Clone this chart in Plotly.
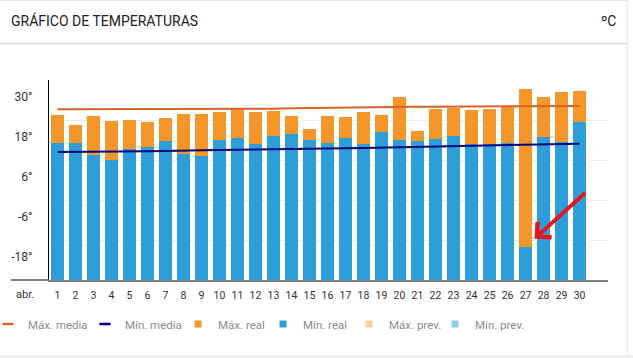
import plotly.graph_objects as go

# ---- data ----
days = list(range(1, 31))
day_labels = [str(d) for d in days]
max_real = [25.6, 22.6, 25.3, 23.8, 24.1, 23.5, 24.7, 25.9, 25.9, 26.4,
            27.2, 26.4, 26.8, 25.3, 21.4, 25.3, 24.9, 26.4, 25.6, 31.0,
            20.7, 27.4, 27.7, 27.0, 27.3, 28.0, 33.3, 30.9, 32.4, 32.7]
min_real = [17.2, 17.2, 13.6, 12.0, 15.3, 16.0, 17.8, 13.9, 13.2, 18.0,
            18.7, 16.7, 19.3, 19.7, 18.1, 17.2, 18.7, 16.9, 20.5, 18.0,
            17.7, 18.4, 19.2, 16.9, 16.8, 17.2, -14.0, 18.9, 17.4, 23.4]
max_media = [27.2, 27.2, 27.2, 27.2, 27.2, 27.2, 27.2, 27.2, 27.3, 27.3,
             27.3, 27.3, 27.4, 27.5, 27.6, 27.7, 27.7, 27.7, 27.8, 27.9,
             28.0, 28.0, 28.0, 28.0, 28.0, 28.1, 28.1, 28.1, 28.2, 28.2]
min_media = [14.4, 14.4, 14.5, 14.5, 14.6, 14.6, 14.7, 14.7, 14.9, 15.0,
             15.0, 15.1, 15.2, 15.3, 15.3, 15.4, 15.5, 15.6, 15.7, 15.8,
             15.9, 16.0, 16.1, 16.2, 16.3, 16.4, 16.5, 16.6, 16.7, 16.9]
y_tick_vals = [30, 18, 6, -6, -18]
y_tick_text = ["30°", "18°", "6°", "-6°", "-18°"]
grid_vals = [-24, -12, 0, 12, 24, 36]
legend_names = ["Máx. media", "Mín. media", "Máx. real", "Mín. real",
                "Máx. prev.", "Mín. prev."]
month_label = "abr."
title_text = "GRÁFICO DE TEMPERATURAS"
unit_text = "ºC"

Y_MIN, Y_MAX = -24, 36

C_MAXREAL = "#f4962a"
C_MINREAL = "#2e9ed8"
C_MAXMED = "#d8612b"
C_MINMED = "#000080"
C_MAXPREV = "#f8cf96"
C_MINPREV = "#93cdec"

W, H = 633, 358
ML, MR, MT, MB = 49, 25, 80, 78
PW, PH = W - ML - MR, H - MT - MB


def px_x(p):
    return (p - ML) / PW


def px_y(p):
    return (H - MB - p) / PH


fig = go.Figure()

fig.add_trace(go.Bar(x=days, y=[v - Y_MIN for v in max_real], base=Y_MIN,
                     marker=dict(color=C_MAXREAL, line=dict(width=0)),
                     width=0.76, name="Máx. real", showlegend=False,
                     legendgroup="maxreal"))
fig.add_trace(go.Bar(x=days, y=[v - Y_MIN for v in min_real], base=Y_MIN,
                     marker=dict(color=C_MINREAL, line=dict(width=0)),
                     width=0.76, name="Mín. real", showlegend=False,
                     legendgroup="minreal"))
fig.add_trace(go.Scatter(x=days, y=max_media, mode="lines",
                         line=dict(color=C_MAXMED, width=2),
                         name="Máx. media", showlegend=False, legendgroup="maxmed"))
fig.add_trace(go.Scatter(x=days, y=min_media, mode="lines",
                         line=dict(color=C_MINMED, width=2),
                         name="Mín. media", showlegend=False, legendgroup="minmed"))

# legend entries (one small legend each, placed like the reference)
legend_cols = [C_MAXMED, C_MINMED, C_MAXREAL, C_MINREAL, C_MAXPREV, C_MINPREV]
legend_syms = ["line-ew", "line-ew", "square", "square", "square", "square"]
legend_grps = ["maxmed", "minmed", "maxreal", "minreal", "maxprev", "minprev"]
legend_text_x = [22, 119, 212, 297, 383, 469]   # layout: where each label starts (px)

layout_legends = {}
for i, (name, col, sym, grp) in enumerate(zip(legend_names, legend_cols,
                                               legend_syms, legend_grps)):
    key = "legend" if i == 0 else f"legend{i + 1}"
    if sym == "line-ew":
        mk = dict(symbol=sym, size=8, color=col, line=dict(width=2.5, color=col))
    else:
        mk = dict(symbol=sym, size=7, color=col, line=dict(width=0))
    fig.add_trace(go.Scatter(x=[None], y=[None], mode="markers", marker=mk,
                             name=name, legendgroup=grp, showlegend=True,
                             legend=key))
    layout_legends[key] = dict(
        orientation="h", x=px_x(legend_text_x[i] - 34), xanchor="left",
        y=px_y(324), yanchor="middle", bgcolor="rgba(0,0,0,0)",
        font=dict(size=11.5, color="#8c8c8c"), itemwidth=30)

fig.update_layout(
    width=W, height=H,
    margin=dict(l=ML, r=MR, t=MT, b=MB, autoexpand=False),
    paper_bgcolor="white", plot_bgcolor="white",
    barmode="overlay", bargap=0,
    font=dict(family="Roboto, Arial, sans-serif", color="#333333"),
    title=dict(text=title_text, x=11 / W, xanchor="left", y=1 - 21 / H,
               yanchor="middle", xref="container", yref="container",
               font=dict(family="Roboto, sans-serif", size=14, color="#222222")),
    xaxis=dict(range=[0.53, 31.58], tickmode="array", tickvals=days,
               ticktext=day_labels, showgrid=False, zeroline=False,
               showline=True, linecolor="#7a7a7a", linewidth=2,
               ticks="", ticklabelstandoff=4,
               tickfont=dict(size=10.5, color="#333333")),
    yaxis=dict(range=[Y_MIN, Y_MAX], tickmode="array", tickvals=y_tick_vals,
               ticktext=y_tick_text, showgrid=False, zeroline=False,
               showline=True, linecolor="#000000", linewidth=1,
               ticks="", ticklabelstandoff=13, ticklabelshift=-3,
               tickfont=dict(size=12, color="#333333"),
               minor=dict(tickmode="array", tickvals=grid_vals, showgrid=True,
                          gridcolor="#ececec", gridwidth=1, ticks="")),
    annotations=[
        dict(text=unit_text, xref="paper", yref="paper", x=px_x(618), y=px_y(21),
             xanchor="right", yanchor="middle", showarrow=False,
             font=dict(family="Roboto, sans-serif", size=14, color="#222222")),
        dict(text=month_label, xref="paper", yref="paper", x=px_x(14), y=px_y(294),
             xanchor="left", yanchor="middle", showarrow=False,
             font=dict(size=11, color="#333333")),
        dict(text="", x=27.5, y=-11.6, xref="x", yref="y", showarrow=True,
             ax=52, ay=-47, axref="pixel", ayref="pixel",
             arrowhead=4, arrowsize=1, arrowwidth=4, arrowcolor="#e8141c",
             standoff=0),
    ],
    shapes=[
        dict(type="line", xref="paper", yref="paper", x0=px_x(11), x1=0,
             y0=0, y1=0, line=dict(color="#7a7a7a", width=2)),
        dict(type="line", xref="paper", yref="paper", x0=px_x(0), x1=px_x(627),
             y0=px_y(43.5), y1=px_y(43.5), line=dict(color="#dcdcdc", width=1.5)),
        dict(type="line", xref="paper", yref="paper", x0=px_x(0), x1=px_x(627),
             y0=px_y(0.5), y1=px_y(0.5), line=dict(color="#e6e6e6", width=1)),
        dict(type="line", xref="paper", yref="paper", x0=px_x(627.5), x1=px_x(627.5),
             y0=px_y(0), y1=px_y(355), line=dict(color="#e6e6e6", width=1)),
        dict(type="rect", xref="paper", yref="paper", x0=px_x(0), x1=px_x(633),
             y0=px_y(355), y1=px_y(358), fillcolor="#f0f0f0",
             line=dict(width=0), layer="below"),
    ],
    **layout_legends,
)

fig.write_html("out.html",
               config={"displayModeBar": False},
               post_script="document.body.style.margin='0';"
                           "document.body.style.padding='0';"
                           "document.body.style.overflow='hidden';")
